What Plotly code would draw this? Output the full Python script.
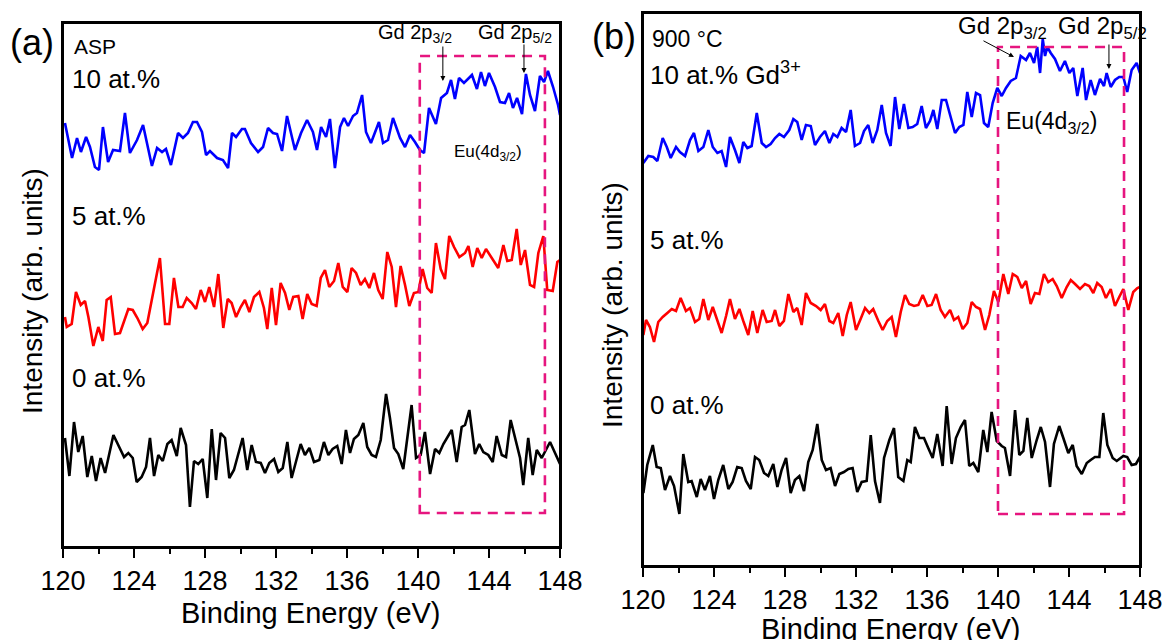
import plotly.graph_objects as go

# ---------------- data ----------------
# Panel (a) ASP
a10_E = [120.11,120.51,120.79,121.01,121.30,121.52,121.80,122.03,122.25,122.54,122.82,123.21,123.49,123.77,124.17,124.51,125.01,125.30,125.58,125.80,126.08,126.48,126.76,127.04,127.32,127.55,127.83,128.06,128.28,128.68,129.01,129.30,129.52,129.75,130.08,130.25,130.59,130.99,131.27,131.55,131.83,132.06,132.34,132.62,133.07,133.41,133.75,134.08,134.31,134.54,134.82,135.04,135.32,135.61,135.83,136.06,136.34,136.56,136.85,137.07,137.35,137.80,138.03,138.31,138.59,138.99,139.27,139.55,139.83,140.11,140.34,140.62,141.01,141.30,141.63,141.86,142.08,142.31,142.59,143.04,143.32,143.55,143.77,144.00,144.34,144.62,144.90,145.13,145.35,145.58,145.86,146.08,146.31,146.59,146.87,147.10,147.32,147.61,147.89,148.00]
a10_I = [477,442,462,448,463,453,433,430,473,438,450,449,487,447,460,475,434,452,448,451,435,467,462,467,478,478,468,445,449,442,440,432,467,463,471,471,457,448,453,472,467,466,449,484,450,467,480,468,450,473,463,481,432,473,482,474,484,487,505,468,457,478,457,460,482,462,453,465,458,450,447,492,476,502,507,520,501,522,517,525,511,528,514,527,513,498,497,507,492,502,486,526,505,489,524,518,529,513,495,485]

a5_E = [120.11,120.21,120.49,120.73,121.00,121.24,121.43,121.71,121.99,122.24,122.46,122.69,122.93,123.21,123.68,123.93,124.19,124.49,124.75,125.05,125.46,125.75,125.99,126.25,126.50,126.74,126.97,127.25,127.49,127.76,128.00,128.24,128.51,128.75,129.03,129.28,129.50,129.75,130.01,130.25,130.50,130.76,131.06,131.32,131.51,131.76,132.00,132.26,132.51,132.75,132.97,133.26,133.50,133.76,134.01,134.29,134.52,134.76,135.00,135.27,135.51,135.76,136.02,136.26,136.51,136.77,137.01,137.26,137.52,137.76,138.01,138.27,138.52,138.76,139.02,139.27,139.51,139.77,140.02,140.26,140.52,140.77,141.01,141.28,141.52,141.76,142.03,142.33,142.65,142.84,143.08,143.34,143.59,143.83,144.10,144.52,144.81,145.03,145.28,145.56,145.79,146.03,146.31,146.54,146.78,147.06,147.28,147.59,147.85,148.00]
a5_I = [283,273,276,308,295,299,283,254,273,259,300,303,266,267,291,290,282,271,277,304,342,276,276,322,293,293,302,297,291,310,298,313,293,326,272,301,297,283,293,300,288,303,308,292,271,312,275,317,307,290,303,304,281,306,296,294,322,330,313,319,337,313,308,332,327,315,321,312,327,310,301,348,333,293,334,315,294,307,308,331,312,307,357,331,321,364,353,343,347,354,333,352,342,351,344,332,355,339,340,371,335,350,315,313,347,364,310,309,338,340]

a0_E = [120.11,120.36,120.62,120.86,121.11,121.37,121.62,121.86,122.12,122.37,122.84,123.17,123.44,123.68,123.93,124.15,124.43,124.68,124.90,125.13,125.37,125.62,125.88,126.12,126.41,126.63,126.93,127.15,127.38,127.62,127.87,128.13,128.38,128.62,128.88,129.13,129.37,129.63,129.88,130.12,130.38,130.63,130.87,131.14,131.38,131.62,131.89,132.13,132.38,132.64,132.88,133.13,133.39,133.63,133.88,134.14,134.44,134.70,134.95,135.19,135.45,135.70,135.94,136.17,136.39,136.64,136.92,137.14,137.39,137.63,137.90,138.20,138.42,138.65,138.89,139.17,139.64,139.89,140.15,140.39,140.68,140.96,141.20,141.43,141.90,142.18,142.46,142.65,142.89,143.21,143.45,143.68,143.96,144.21,144.43,144.72,144.96,145.22,145.46,145.75,145.93,146.21,146.46,146.69,146.97,147.21,147.44,147.72,148.00]
a0_I = [162,124,178,148,164,123,144,119,142,127,165,152,143,147,142,118,123,133,162,124,145,139,156,160,144,172,155,93,139,136,141,102,171,120,167,162,122,130,147,162,130,155,138,137,127,137,141,128,132,158,122,138,156,145,152,138,140,158,145,151,154,136,170,147,161,165,177,153,145,143,160,206,182,152,146,131,195,142,145,168,126,151,147,156,170,138,173,175,190,146,156,148,145,138,164,145,143,180,162,142,115,162,125,150,142,150,158,147,136]

# Panel (b) 900 C
b10_E = [120.02,120.30,120.58,120.81,121.11,121.34,121.56,121.86,122.08,122.37,122.65,122.87,123.12,123.40,123.68,123.93,124.19,124.43,124.68,124.90,125.18,125.43,125.65,125.88,126.12,126.41,126.69,126.93,127.19,127.44,127.68,127.94,128.24,128.47,128.69,128.94,129.18,129.45,129.69,129.97,130.25,130.50,130.72,130.95,131.19,131.44,131.70,131.94,132.23,132.45,132.69,132.94,133.20,133.45,133.69,133.95,134.20,134.44,134.70,134.95,135.19,135.45,135.70,135.94,136.17,136.36,136.58,136.83,137.07,137.34,137.58,137.82,138.05,138.27,138.52,138.76,138.99,139.21,139.45,139.70,139.96,140.21,140.45,140.72,141.01,141.28,141.58,141.80,142.03,142.21,142.37,142.52,142.65,142.78,142.97,143.21,143.49,143.77,144.02,144.24,144.47,144.77,144.96,145.22,145.46,145.75,145.97,146.12,146.35,146.59,146.83,147.06,147.28,147.53,147.81,148.00]
b10_I = [437,444,443,439,462,453,442,453,448,444,460,467,449,453,470,453,447,449,433,463,450,437,458,452,454,487,457,453,456,462,466,463,470,481,478,460,475,474,455,463,469,457,466,463,472,468,490,454,457,469,475,457,470,495,467,454,503,471,496,472,473,476,494,472,479,490,471,500,500,483,467,473,475,508,483,507,505,477,473,497,512,504,512,519,522,544,540,547,537,553,527,561,544,553,547,541,529,539,527,532,504,532,500,520,505,521,514,527,513,520,523,523,508,530,537,527]

b5_E = [120.02,120.17,120.39,120.62,120.86,121.11,121.37,121.62,121.86,122.12,122.42,122.65,122.93,123.17,123.40,123.68,123.93,124.15,124.43,124.68,124.90,125.18,125.43,125.65,125.93,126.18,126.44,126.74,126.97,127.25,127.44,127.68,127.94,128.19,128.47,128.69,128.94,129.18,129.45,129.75,130.01,130.25,130.50,130.72,131.00,131.25,131.48,131.70,132.00,132.26,132.51,132.75,132.97,133.26,133.50,133.76,134.01,134.25,134.52,134.76,135.00,135.27,135.51,135.76,136.02,136.26,136.51,136.77,137.01,137.30,137.52,137.76,138.01,138.27,138.52,138.76,138.99,139.27,139.51,139.77,140.02,140.30,140.58,140.83,141.09,141.34,141.58,141.84,142.08,142.33,142.59,142.83,143.08,143.31,143.59,143.87,144.10,144.34,144.62,144.90,145.14,145.37,145.59,145.84,146.08,146.35,146.59,146.83,147.06,147.34,147.62,147.85,148.00]
b5_I = [265,280,273,258,278,283,287,291,289,302,289,292,278,281,301,280,293,282,267,284,301,281,291,279,265,289,267,290,278,279,290,274,279,306,288,292,275,307,297,294,290,296,279,277,287,264,285,298,270,281,292,287,291,279,270,279,283,263,288,305,296,294,295,305,294,295,306,290,283,290,280,283,271,277,298,293,291,270,285,309,298,326,306,326,323,312,319,296,307,306,326,318,321,314,302,313,320,316,311,316,314,307,317,313,302,311,294,303,311,290,308,312,313]

b0_E = [120.02,120.24,120.55,120.77,121.00,121.24,121.52,121.75,122.05,122.27,122.55,122.74,123.03,123.25,123.49,123.77,124.00,124.24,124.52,124.81,125.05,125.31,125.56,125.80,126.07,126.31,126.55,126.82,127.06,127.34,127.57,127.81,128.06,128.32,128.56,128.81,129.07,129.31,129.56,129.82,130.07,130.31,130.57,130.82,131.06,131.32,131.57,131.81,132.07,132.32,132.60,132.83,133.07,133.35,133.58,133.88,134.14,134.38,134.67,134.89,135.08,135.32,135.57,135.83,136.07,136.32,136.58,136.88,137.11,137.39,137.63,137.90,138.14,138.38,138.61,138.89,139.17,139.40,139.64,139.93,140.21,140.39,140.68,140.96,141.20,141.43,141.65,141.90,142.18,142.41,142.65,142.93,143.15,143.45,143.68,143.96,144.21,144.43,144.72,145.00,145.22,145.46,145.71,145.93,146.16,146.46,146.69,146.87,147.06,147.28,147.53,147.77,148.00]
b0_I = [107,135,155,133,132,110,124,114,86,146,118,119,103,121,110,124,101,120,135,111,118,133,132,119,111,143,140,127,124,136,113,130,142,107,120,124,109,138,150,176,140,130,132,114,126,128,131,132,108,118,119,165,119,97,142,160,172,123,119,140,138,173,162,162,152,142,166,134,194,136,162,173,180,134,137,128,170,148,188,159,154,152,124,190,145,149,182,142,160,173,158,113,156,174,162,147,155,134,126,137,140,143,143,187,155,142,139,141,144,143,135,136,143]

# highlighted region (eV, intensity) and x ticks
box_a = [140.1, 147.15, 87, 544]
box_b = [140.0, 147.1, 86, 553]
x_ticks = [120, 124, 128, 132, 136, 140, 144, 148]

# ---------------- figure ----------------
W, H = 1166, 640
FONT = "Liberation Sans, Arial, sans-serif"
PINK = "#e6157f"

def px(x):
    return x / W

def py(y):
    return 1 - y / H

fig = go.Figure()
lw = 2.6
fig.add_trace(go.Scatter(x=a10_E, y=a10_I, mode="lines", line=dict(color="#0000ff", width=lw), xaxis="x", yaxis="y"))
fig.add_trace(go.Scatter(x=a5_E, y=a5_I, mode="lines", line=dict(color="#ff0000", width=lw), xaxis="x", yaxis="y"))
fig.add_trace(go.Scatter(x=a0_E, y=a0_I, mode="lines", line=dict(color="#000000", width=lw), xaxis="x", yaxis="y"))
fig.add_trace(go.Scatter(x=b10_E, y=b10_I, mode="lines", line=dict(color="#0000ff", width=lw), xaxis="x2", yaxis="y2"))
fig.add_trace(go.Scatter(x=b5_E, y=b5_I, mode="lines", line=dict(color="#ff0000", width=lw), xaxis="x2", yaxis="y2"))
fig.add_trace(go.Scatter(x=b0_E, y=b0_I, mode="lines", line=dict(color="#000000", width=lw), xaxis="x2", yaxis="y2"))

xcommon = dict(range=[120, 148], tickmode="array", tickvals=x_ticks, ticks="outside", ticklen=9,
               tickwidth=2, tickcolor="black", showline=True, linecolor="black", linewidth=2,
               mirror=True, showgrid=False, zeroline=False, ticklabelstandoff=0, automargin=False,
               tickfont=dict(family=FONT, size=27, color="black"),
               minor=dict(dtick=2, tick0=120, ticks="outside", ticklen=5, tickwidth=2, tickcolor="black", showgrid=False))
ycommon = dict(showticklabels=False, ticks="", showline=True, linecolor="black", linewidth=2,
               mirror=True, showgrid=False, zeroline=False, automargin=False)

fig.update_layout(
    width=W, height=H, margin=dict(l=0, r=0, t=0, b=0, autoexpand=False),
    paper_bgcolor="white", plot_bgcolor="white", showlegend=False,
    font=dict(family=FONT, color="black"),
    xaxis=dict(domain=[px(63), px(560)], anchor="y", **xcommon),
    yaxis=dict(domain=[py(547), py(23)], range=[53, 577], anchor="x", **ycommon),
    xaxis2=dict(domain=[px(643), px(1140)], anchor="y2", **xcommon),
    yaxis2=dict(domain=[py(566), py(13)], range=[34, 587], anchor="x2", **ycommon),
)

# plot frames
for xr, yr in [("x", "y"), ("x2", "y2")]:
    fig.add_shape(type="rect", xref=f"{xr} domain", yref=f"{yr} domain", x0=0, x1=1, y0=0, y1=1,
                  line=dict(color="black", width=2), layer="above")

for (bx, xr, yr) in [(box_a, "x", "y"), (box_b, "x2", "y2")]:
    fig.add_shape(type="rect", xref=xr, yref=yr, x0=bx[0], x1=bx[1], y0=bx[2], y1=bx[3],
                  line=dict(color=PINK, width=2.6, dash="10px,7px"), layer="above")

def txt(x, y, s, size, xanchor="left", angle=0):
    fig.add_annotation(x=px(x), y=py(y), xref="paper", yref="paper", text=s, showarrow=False,
                       xanchor=xanchor, yanchor="middle", textangle=angle,
                       font=dict(family=FONT, size=size, color="black"))

# panel labels and titles
txt(8, 42, "(a)", 36)
txt(590, 36, "(b)", 36)
txt(311, 613, "Binding Energy (eV)", 29, "center")
txt(891, 629, "Binding Energy (eV)", 29, "center")
txt(32, 291, "Intensity (arb. units)", 28, "center", -90)
txt(612, 305, "Intensity (arb. units)", 28, "center", -90)

# panel (a) texts
txt(72, 46, "ASP", 21)
txt(70, 79, "10 at.%", 26)
txt(70, 216, "5 at.%", 26)
txt(70, 378, "0 at.%", 26)
txt(376, 34, "Gd 2p<sub>3/2</sub>", 20)
txt(476, 34, "Gd 2p<sub>5/2</sub>", 20)
txt(452, 153, "Eu(4d<sub>3/2</sub>)", 17)

# panel (b) texts
txt(650, 39, "900 °C", 23)
txt(648, 74, "10 at.% Gd<sup>3+</sup>", 26)
txt(648, 240, "5 at.%", 26)
txt(648, 405, "0 at.%", 26)
txt(956, 28, "Gd 2p<sub>3/2</sub>", 24)
txt(1056, 28, "Gd 2p<sub>5/2</sub>", 24)
txt(1004, 122, "Eu(4d<sub>3/2</sub>)", 23)

# arrows
def arrow(x, y, ax, ay, xr, yr):
    fig.add_annotation(x=x, y=y, xref=xr, yref=yr, ax=ax, ay=ay, text="", showarrow=True,
                       arrowhead=2, arrowsize=1, arrowwidth=1, arrowcolor="black")

arrow(141.4, 519, 0, -36, "x", "y")
arrow(145.97, 527, 0, -30, "x", "y")
arrow(140.9, 543, -32, -17, "x2", "y2")
arrow(146.25, 531, 0, -26, "x2", "y2")

fig.write_html("out.html")
